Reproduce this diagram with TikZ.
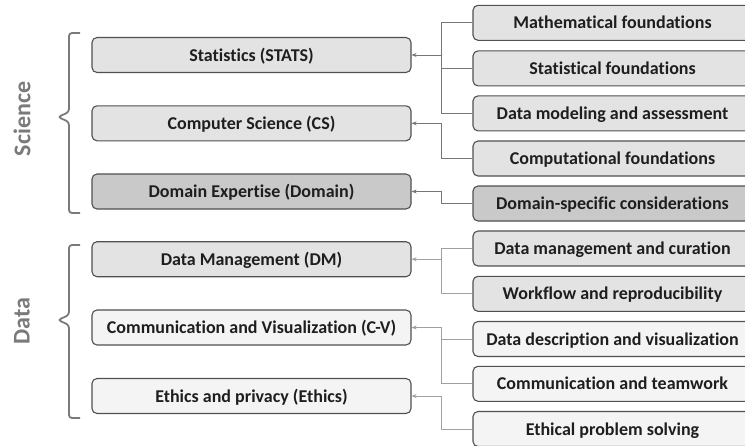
\documentclass[tikz,border=0pt]{standalone}
\usepackage{fontspec}
\setmainfont{Carlito}[Ligatures=NoCommon]
\usetikzlibrary{arrows.meta}
\definecolor{gA}{HTML}{E3E3E3}
\definecolor{gB}{HTML}{C9C9C9}
\definecolor{gC}{HTML}{F4F4F4}
\definecolor{bord}{HTML}{505050}
\definecolor{txt}{HTML}{1E1E1E}
\definecolor{lineS}{HTML}{767676}
\definecolor{lineD}{HTML}{A0A0A0}
\definecolor{brc}{HTML}{7A7A7A}
\tikzset{
  box/.style={draw=bord, line width=1.1pt, rounded corners=5pt, minimum height=35pt,
    inner sep=0pt, text=txt, text height=14pt, text depth=2pt,
    font=\bfseries\fontsize{18}{21}\selectfont},
  lbox/.style={box, minimum width=319pt},
  rbox/.style={box, minimum width=279pt},
  connS/.style={draw=lineS, line width=0.9pt},
  connD/.style={draw=lineD, line width=0.9pt},
  arrS/.style={connS, -{Stealth[length=5pt,width=4pt]}},
  arrD/.style={connD, -{Stealth[length=5pt,width=4pt]}},
  brace/.style={draw=brc, line width=1.8pt, rounded corners=3pt},
  side/.style={rotate=90, text=brc, font=\bfseries\fontsize{24}{28}\selectfont}
}
\begin{document}
\begin{tikzpicture}[x=1pt,y=-1pt]
\clip (0,0) rectangle (745,445);
\fill[white] (0,0) rectangle (745,445);

% left boxes
\node[lbox, fill=gA] (stats) at (251.5,55) {Statistics (STATS)};
\node[lbox, fill=gA] (cs) at (251.5,123.3) {Computer Science (CS)};
\node[lbox, fill=gB] (dom) at (251.5,191.5) {Domain Expertise (Domain)};
\node[lbox, fill=gA] (dm) at (251.5,259.2) {Data Management (DM)};
\node[lbox, fill=gC] (cv) at (251.5,327.5) {Communication and Visualization (C-V)};
\node[lbox, fill=gC] (eth) at (251.5,396) {Ethics and privacy (Ethics)};

% right boxes
\node[rbox, fill=gA] (math) at (612.5,22.8) {Mathematical foundations};
\node[rbox, fill=gA] (stat) at (612.5,68.4) {Statistical foundations};
\node[rbox, fill=gA] (model) at (612.5,113.4) {Data modeling and assessment};
\node[rbox, fill=gA] (comp) at (612.5,158.5) {Computational foundations};
\node[rbox, fill=gB] (dspec) at (612.5,203.5) {Domain-specific considerations};
\node[rbox, fill=gA] (dmc) at (612.5,248.5) {Data management and curation};
\node[rbox, fill=gA] (wf) at (612.5,293.8) {Workflow and reproducibility};
\node[rbox, fill=gC] (ddv) at (612.5,339) {Data description and visualization};
\node[rbox, fill=gC] (ct) at (612.5,383.8) {Communication and teamwork};
\node[rbox, fill=gC] (eps) at (612.5,429) {Ethical problem solving};

% bus coordinates
\coordinate (b1) at (441.5,55);
\coordinate (b2) at (441.5,123.3);
\coordinate (b3) at (441.5,191.5);
\coordinate (b4) at (441.5,259.2);
\coordinate (b5) at (441.5,327.5);
\coordinate (b6) at (441.5,396);

% connectors
\draw[arrS] (b1) -- (stats.east);
\draw[connS] (math.west) -| (b1);
\draw[connS] (stat.west) -- (stat.west -| b1);
\draw[connS] (model.west) -| (b1);

\draw[arrS] (b2) -- (cs.east);
\draw[connS] (comp.west) -| (b2);

\draw[arrS] (b3) -- (dom.east);
\draw[connS] (dspec.west) -| (b3);

\draw[arrD] (b4) -- (dm.east);
\draw[connD] (dmc.west) -| (b4);
\draw[connD] (wf.west) -| (b4);

\draw[arrD] (b5) -- (cv.east);
\draw[connD] (ddv.west) -- (ddv.west -| b5);
\draw[connD] (ct.west) -| (b5);

\draw[arrD] (b6) -- (eth.east);
\draw[connD] (eps.west) -| (b6);

% braces
\draw[brace] (80,33) -| (69,112) -- (58,117) -- (69,122) |- (80,213);
\draw[brace] (80,245) -| (69,315) -- (58,320) -- (69,325) |- (80,418);

% side labels
\node[side] (sci) at (22,119) {Science};
\node[side] (dat) at (22,321) {Data};
\end{tikzpicture}
\end{document}
